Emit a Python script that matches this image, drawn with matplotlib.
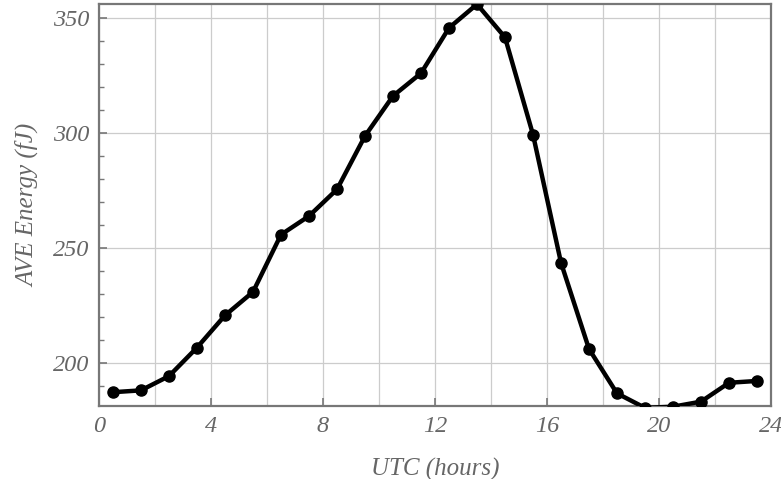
import matplotlib
matplotlib.use("Agg")
import matplotlib.pyplot as plt
from matplotlib.ticker import MultipleLocator

hours = [0.5, 1.5, 2.5, 3.5, 4.5, 5.5, 6.5, 7.5, 8.5, 9.5, 10.5, 11.5,
         12.5, 13.5, 14.5, 15.5, 16.5, 17.5, 18.5, 19.5, 20.5, 21.5, 22.5, 23.5]
energy = [187.3, 188.1, 194.3, 206.7, 220.7, 230.9, 255.8, 263.9, 275.5, 298.7, 316.1, 326.0,
          345.7, 356.0, 341.6, 299.3, 243.6, 206.1, 186.8, 180.5, 181.0, 183.2, 191.4, 192.2]
x_ticks = [0, 4, 8, 12, 16, 20, 24]
y_ticks = [200, 250, 300, 350]

fig = plt.figure(figsize=(7.81, 4.79), dpi=100)
ax = fig.add_axes([99/781, 1-406/479, (771-99)/781, (406-4)/479])

gray = "#666666"
ax.plot(hours, energy, color="black", lw=3.2, marker="o", ms=8, zorder=3)

ax.set_xlim(0, 24)
ax.set_ylim(181.3, 356.1)
ax.set_xticks(x_ticks)
ax.set_yticks(y_ticks)
ax.yaxis.set_minor_locator(MultipleLocator(10))
ax.xaxis.set_minor_locator(MultipleLocator(2))

ax.grid(True, which="major", color="#cccccc", lw=0.9)
ax.grid(True, which="minor", axis="x", color="#cccccc", lw=0.9)
ax.set_axisbelow(True)

for s in ax.spines.values():
    s.set_color("#777777")
    s.set_linewidth(1.6)

ax.tick_params(axis="both", which="major", direction="in", length=6, width=1.2,
               color="#777777", labelcolor=gray, labelsize=17.5, pad=7)
ax.tick_params(axis="y", which="minor", direction="in", length=3.5, width=1.0, color="#777777")
ax.tick_params(axis="x", which="minor", length=0)

for lab in ax.get_xticklabels() + ax.get_yticklabels():
    lab.set_fontfamily("Liberation Serif")
    lab.set_fontstyle("italic")

ax.set_xlabel("UTC (hours)", fontsize=18, color=gray, family="Liberation Serif",
              style="italic")
ax.set_ylabel("AVE Energy (fJ)", fontsize=18, color=gray, family="Liberation Serif",
              style="italic")
ax.xaxis.set_label_coords(0.5, -0.128)
ax.yaxis.set_label_coords(-0.088, 0.5)

fig.savefig("out.png", dpi=100)
